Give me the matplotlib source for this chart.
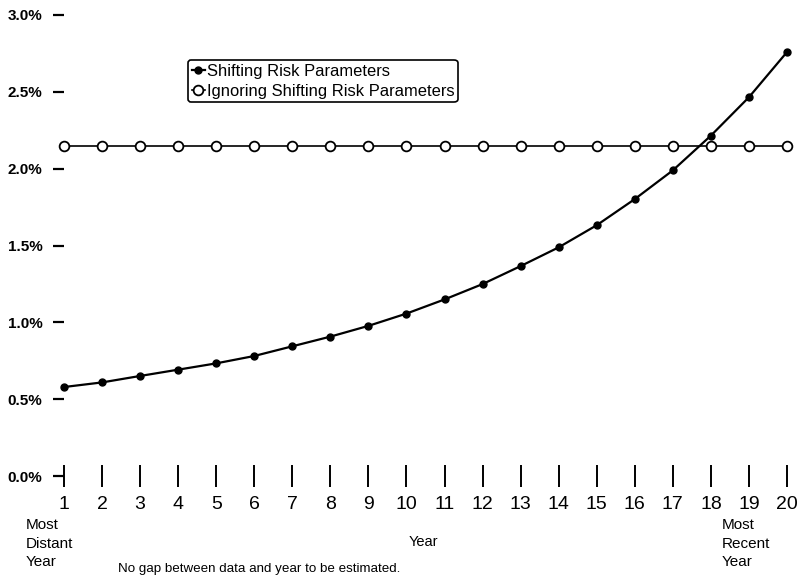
import matplotlib
matplotlib.use("Agg")
import matplotlib.pyplot as plt
from matplotlib.ticker import FuncFormatter

plt.rcParams['font.family'] = ['Liberation Sans', 'DejaVu Sans']

years = list(range(1, 21))
shifting = [0.579, 0.609, 0.651, 0.692, 0.733, 0.781, 0.844, 0.907, 0.977, 1.057,
            1.149, 1.249, 1.366, 1.488, 1.632, 1.802, 1.989, 2.215, 2.465, 2.759]
ignoring = [2.145] * 20
y_ticks = [0.0, 0.5, 1.0, 1.5, 2.0, 2.5, 3.0]

fig = plt.figure(figsize=(8.02, 5.79), dpi=100)
ax = fig.add_axes([64 / 802, 1 - 476 / 579, (787 - 64) / 802, (476 - 15) / 579])

ax.plot(years, shifting, color='black', lw=1.6, marker='o', ms=5,
        mfc='black', mec='black', clip_on=False, zorder=3,
        label='Shifting Risk Parameters')
ax.plot(years, ignoring, color='black', lw=1.2, marker='o', ms=7,
        mfc='white', mec='black', mew=1.3, clip_on=False, zorder=2,
        label='Ignoring Shifting Risk Parameters')

ax.set_xlim(1, 20)
ax.set_ylim(0, 3.0)
ax.set_xticks(years)
ax.set_yticks(y_ticks)
ax.yaxis.set_major_formatter(FuncFormatter(lambda v, _: f"{v:.1f}%"))

for s in ax.spines.values():
    s.set_visible(False)

ax.tick_params(axis='y', direction='out', length=8, width=1.6, pad=7.5,
               labelsize=11, colors='black')
ax.tick_params(axis='x', direction='inout', length=16, width=1.4, pad=6.5,
               labelsize=14, colors='black')
for lab in ax.get_yticklabels():
    lab.set_fontweight('bold')

# axis annotations below the year ticks
fig.text(26 / 802, 1 - 518 / 579, "Most\nDistant\nYear", ha='left', va='top',
         fontsize=11, linespacing=1.42)
fig.text(722 / 802, 1 - 518 / 579, "Most\nRecent\nYear", ha='left', va='top',
         fontsize=11, linespacing=1.42)
fig.text(423 / 802, 1 - 542 / 579, "Year", ha='center', va='center', fontsize=10.5)
fig.text(118 / 802, 1 - 569 / 579, "No gap between data and year to be estimated.",
         ha='left', va='center', fontsize=9.6)

leg = ax.legend(loc='upper left', bbox_to_anchor=(188 / 802, 1 - 60 / 579),
                bbox_transform=fig.transFigure, fontsize=11.9, frameon=True,
                fancybox=True, handlelength=0.8, handletextpad=0.1,
                borderpad=0.22, labelspacing=0.3, borderaxespad=0,
                edgecolor='black', framealpha=1)
leg.get_frame().set_linewidth(1.2)

fig.savefig("out.png", dpi=100)
